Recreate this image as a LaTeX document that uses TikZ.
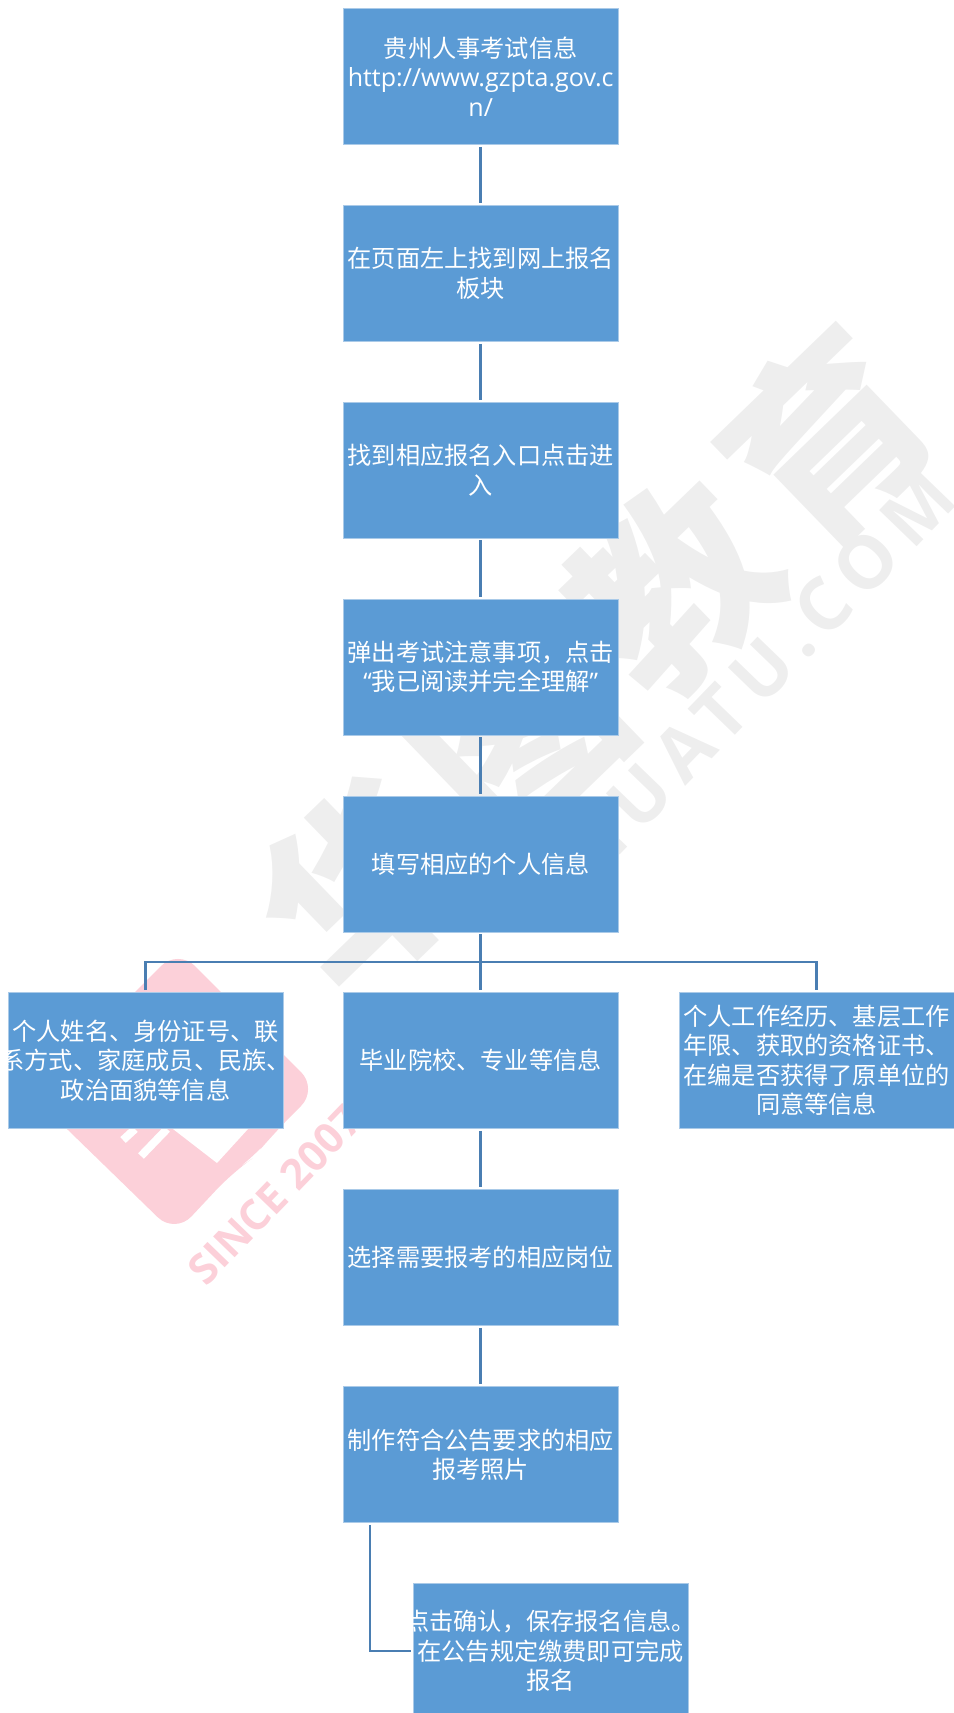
\documentclass[tikz,border=0pt]{standalone}
\usepackage{fontspec}
\usepackage{xcolor}
\usetikzlibrary{positioning}
\newfontfamily\cjk{Noto Sans CJK SC}
\newfontfamily\cjkwide[LetterSpace=10]{Noto Sans CJK SC}
\newfontfamily\latin{Open Sans}
\newfontfamily\latinwide[LetterSpace=15]{Open Sans}
\newcommand{\wideline}[1]{\makebox[0pt]{#1}}
\definecolor{bxblue}{RGB}{91,155,213}
\definecolor{bxedge}{RGB}{170,202,232}
\definecolor{lnblue}{RGB}{74,126,178}
\definecolor{wmgray}{RGB}{238,238,238}
\definecolor{wmpink}{RGB}{252,208,217}
\tikzstyle{stepbox} = [rectangle, minimum width=275pt, minimum height=136pt, text width=275pt, inner sep=0pt, align=center, text=white, fill=bxblue, draw=bxedge, line width=0.8pt, font=\fontsize{24.2}{29.5}\selectfont\cjk]
\tikzstyle{link} = [line width=2.6pt, color=lnblue, shorten >=2pt, shorten <=2pt]
\begin{document}
\begin{tikzpicture}[x=1pt, y=-1pt]
    \useasboundingbox (0,0) rectangle (953,1713);

    % Watermark
    \node[rotate=44, text=wmgray, font=\fontsize{195}{195}\selectfont\cjkwide\bfseries] (wmname) at (595,660) {华图教育};
    \node[rotate=46, text=wmgray, font=\fontsize{73}{73}\selectfont\latinwide\bfseries] (wmsite) at (758,674) {HUATU.COM};
    \fill[wmpink, rounded corners=24pt] (178,949) -- (318,1089) -- (276,1131) -- (253,1158) -- (233,1172) -- (175,1234) -- (32,1095) -- cycle;
    \fill[white] (173,1129) -- (217,1163) -- (248,1129) -- cycle;
    \draw[white, line width=8pt] (123,1140) -- (135,1129);
    \draw[white, line width=8pt] (141,1156) -- (167,1129);
    \node[rotate=46, text=wmpink, font=\fontsize{42}{42}\selectfont\latin\bfseries] (wmsince) at (275,1195) {SINCE 2007};

    % Main column
    \node[stepbox] (info) at (480.7,76.5) {贵州人事考试信息\\{\fontsize{25}{29.5}\selectfont\latin http://www.gzpta.gov.c}\\{\fontsize{25}{29.5}\selectfont\latin n/}};
    \node[stepbox] (board) at (480.7,273.5) {在页面左上找到网上报名\\板块};
    \node[stepbox] (entry) at (480.7,470) {找到相应报名入口点击进\\入};
    \node[stepbox] (notice) at (480.7,667) {弹出考试注意事项，点击\\{\latin “}我已阅读并完全理解{\latin ”}};
    \node[stepbox] (fill) at (480.7,864) {填写相应的个人信息};

    % Personal details row
    \node[stepbox] (idcard) at (145.6,1060.5) {个人姓名、身份证号、联\\\wideline{系方式、家庭成员、民族、}\\政治面貌等信息};
    \node[stepbox] (school) at (480.7,1060.5) {毕业院校、专业等信息};
    \node[stepbox] (career) at (816.6,1060.5) {个人工作经历、基层工作\\年限、获取的资格证书、\\在编是否获得了原单位的\\同意等信息};

    % Lower column
    \node[stepbox] (post) at (480.7,1257.5) {选择需要报考的相应岗位};
    \node[stepbox] (photo) at (480.7,1454.5) {制作符合公告要求的相应\\报考照片};
    \node[stepbox] (confirm) at (550.5,1651) {\wideline{点击确认，保存报名信息。}\\在公告规定缴费即可完成\\报名};

    % Connections
    \coordinate (fork) at (480.7,962);
    \draw[link] (info) -- (board);
    \draw[link] (board) -- (entry);
    \draw[link] (entry) -- (notice);
    \draw[link] (notice) -- (fill);
    \draw[link] (fill) -- (school);
    \draw[link] (idcard) |- (fork) -| (career);
    \draw[link] (school) -- (post);
    \draw[link] (post) -- (photo);
    \draw[link] ([xshift=-110.7pt]photo.south) |- (confirm);
\end{tikzpicture}
\end{document}
